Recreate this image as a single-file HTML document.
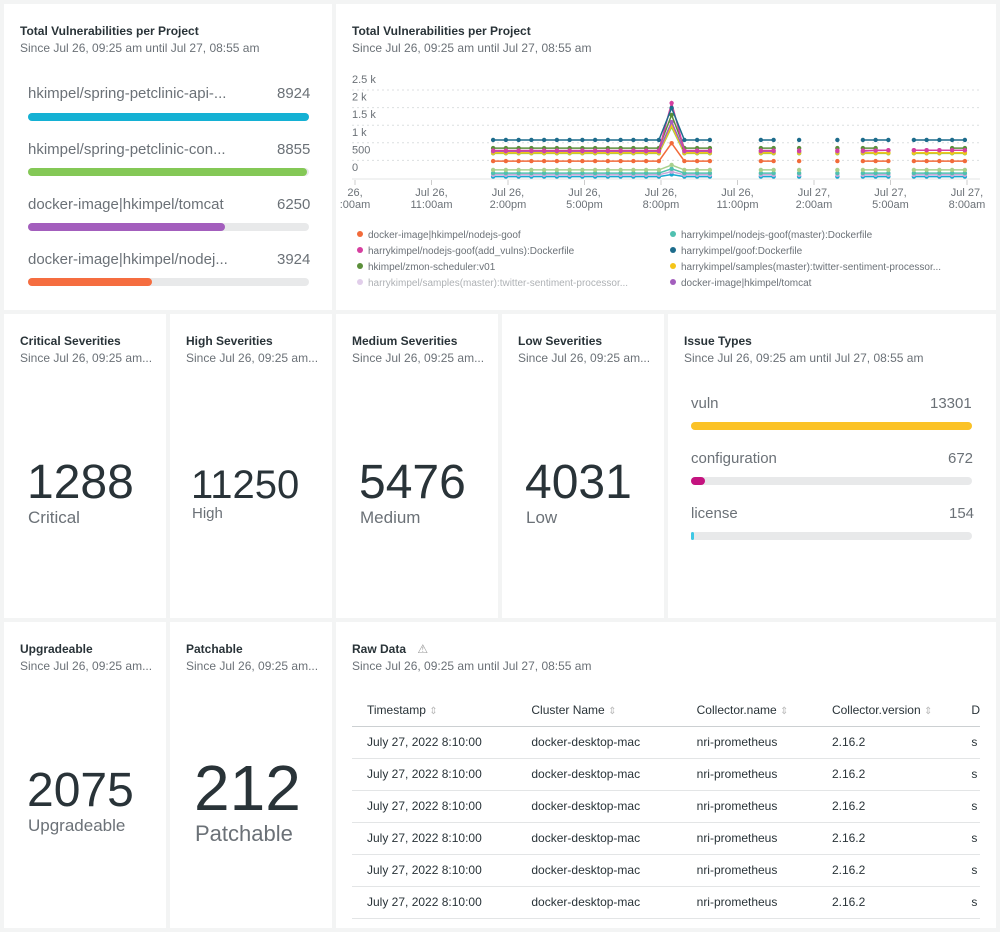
<!DOCTYPE html>
<html><head><meta charset="utf-8">
<style>
*{box-sizing:border-box;margin:0;padding:0}
body{width:1000px;height:932px;background:#f3f4f4;font-family:"Liberation Sans",sans-serif;position:relative;overflow:hidden;color:#293338}
.p{position:absolute;background:#fff}
.t{position:absolute;left:16px;top:20px;font-size:12px;font-weight:bold;color:#293338;white-space:nowrap}
.s{position:absolute;left:16px;top:37px;font-size:12px;color:#6b7177;white-space:nowrap}
.a{position:absolute}
.lbl{position:absolute;font-size:15px;color:#6b7177;white-space:nowrap}
.trk{position:absolute;height:8px;border-radius:4px;background:#e8e9ea}
.bar{position:absolute;left:0;top:0;height:8px;border-radius:4px}
.big{position:absolute;color:#293338;white-space:nowrap;line-height:1}
.bl{position:absolute;font-size:17px;color:#6b7177}
table{position:absolute;left:16px;top:72px;border-collapse:collapse;font-size:12px;color:#293338}
th{font-weight:normal;text-align:left;height:32px;border-bottom:1px solid #ccd0d2;padding-left:15px}
td{height:32px;border-bottom:1px solid #e3e5e6;padding-left:15px;white-space:nowrap}
.srt{color:#bbb;font-size:10px}
</style></head><body>

<div class="p" style="left:4px;top:4px;width:328px;height:306px">
<div class="t">Total Vulnerabilities per Project</div>
<div class="s">Since Jul 26, 09:25 am until Jul 27, 08:55 am</div>
<div class="lbl" style="left:24px;top:81px">hkimpel/spring-petclinic-api-...</div><div class="lbl" style="left:273px;top:81px">8924</div>
<div class="trk" style="left:24px;top:109px;width:281px"><div class="bar" style="width:100%;background:#14b1d4"></div></div>
<div class="lbl" style="left:24px;top:137px">hkimpel/spring-petclinic-con...</div><div class="lbl" style="left:273px;top:137px">8855</div>
<div class="trk" style="left:24px;top:164px;width:281px"><div class="bar" style="width:99.2%;background:#84c856"></div></div>
<div class="lbl" style="left:24px;top:192px">docker-image|hkimpel/tomcat</div><div class="lbl" style="left:273px;top:192px">6250</div>
<div class="trk" style="left:24px;top:219px;width:281px"><div class="bar" style="width:70%;background:#a35ebd"></div></div>
<div class="lbl" style="left:24px;top:247px">docker-image|hkimpel/nodej...</div><div class="lbl" style="left:273px;top:247px">3924</div>
<div class="trk" style="left:24px;top:274px;width:281px"><div class="bar" style="width:44%;background:#f56d40"></div></div>
</div>

<div class="p" style="left:336px;top:4px;width:660px;height:306px">
<div class="t">Total Vulnerabilities per Project</div>
<div class="s">Since Jul 26, 09:25 am until Jul 27, 08:55 am</div>
</div>
<svg id="chart" class="a" style="left:0;top:0" width="1000" height="310"></svg>

<div class="p" style="left:4px;top:314px;width:162px;height:304px">
<div class="t">Critical Severities</div><div class="s">Since Jul 26, 09:25 am...</div>
<div class="big" style="left:23px;top:145px;font-size:48px">1288</div><div class="bl" style="left:24px;top:194px">Critical</div></div>
<div class="p" style="left:170px;top:314px;width:162px;height:304px">
<div class="t">High Severities</div><div class="s">Since Jul 26, 09:25 am...</div>
<div class="big" style="left:21px;top:151px;font-size:40px">11250</div><div class="bl" style="left:22px;top:191px;font-size:15px">High</div></div>
<div class="p" style="left:336px;top:314px;width:162px;height:304px">
<div class="t">Medium Severities</div><div class="s">Since Jul 26, 09:25 am...</div>
<div class="big" style="left:23px;top:145px;font-size:48px">5476</div><div class="bl" style="left:24px;top:194px">Medium</div></div>
<div class="p" style="left:502px;top:314px;width:162px;height:304px">
<div class="t">Low Severities</div><div class="s">Since Jul 26, 09:25 am...</div>
<div class="big" style="left:23px;top:145px;font-size:48px">4031</div><div class="bl" style="left:24px;top:194px">Low</div></div>

<div class="p" style="left:668px;top:314px;width:328px;height:304px">
<div class="t">Issue Types</div><div class="s">Since Jul 26, 09:25 am until Jul 27, 08:55 am</div>
<div class="lbl" style="left:23px;top:81px">vuln</div><div class="lbl" style="left:262px;top:81px">13301</div>
<div class="trk" style="left:23px;top:108px;width:281px"><div class="bar" style="width:100%;background:#fbc226"></div></div>
<div class="lbl" style="left:23px;top:136px">configuration</div><div class="lbl" style="left:280px;top:136px">672</div>
<div class="trk" style="left:23px;top:163px;width:281px"><div class="bar" style="width:5%;background:#c4137f"></div></div>
<div class="lbl" style="left:23px;top:191px">license</div><div class="lbl" style="left:281px;top:191px">154</div>
<div class="trk" style="left:23px;top:218px;width:281px"><div class="bar" style="width:1.2%;background:#3fc8e4"></div></div>
</div>

<div class="p" style="left:4px;top:622px;width:162px;height:306px">
<div class="t">Upgradeable</div><div class="s">Since Jul 26, 09:25 am...</div>
<div class="big" style="left:23px;top:145px;font-size:48px">2075</div><div class="bl" style="left:24px;top:194px">Upgradeable</div></div>
<div class="p" style="left:170px;top:622px;width:162px;height:306px">
<div class="t">Patchable</div><div class="s">Since Jul 26, 09:25 am...</div>
<div class="big" style="left:24px;top:134px;font-size:64px">212</div><div class="bl" style="left:25px;top:199px;font-size:22px">Patchable</div></div>

<div class="p" style="left:336px;top:622px;width:660px;height:306px;overflow:hidden">
<div class="t">Raw Data <span style="font-weight:normal;color:#999;margin-left:8px">⚠</span></div>
<div class="s">Since Jul 26, 09:25 am until Jul 27, 08:55 am</div>
<table style="width:628px">
<tr><th style="width:165px">Timestamp <span class="srt">⇕</span></th><th style="width:166px">Cluster Name <span class="srt">⇕</span></th><th style="width:136px">Collector.name <span class="srt">⇕</span></th><th style="width:140px">Collector.version <span class="srt">⇕</span></th><th>D</th></tr>
<tr><td>July 27, 2022 8:10:00</td><td>docker-desktop-mac</td><td>nri-prometheus</td><td>2.16.2</td><td>s</td></tr>
<tr><td>July 27, 2022 8:10:00</td><td>docker-desktop-mac</td><td>nri-prometheus</td><td>2.16.2</td><td>s</td></tr>
<tr><td>July 27, 2022 8:10:00</td><td>docker-desktop-mac</td><td>nri-prometheus</td><td>2.16.2</td><td>s</td></tr>
<tr><td>July 27, 2022 8:10:00</td><td>docker-desktop-mac</td><td>nri-prometheus</td><td>2.16.2</td><td>s</td></tr>
<tr><td>July 27, 2022 8:10:00</td><td>docker-desktop-mac</td><td>nri-prometheus</td><td>2.16.2</td><td>s</td></tr>
<tr><td>July 27, 2022 8:10:00</td><td>docker-desktop-mac</td><td>nri-prometheus</td><td>2.16.2</td><td>s</td></tr>
</table>
<div class="a" style="left:644px;top:104px;width:16px;height:202px;background:#fff"></div>
</div>

<script>
const N=null;
const yTicks=[0,500,1000,1500,2000,2500];
const yTickLabels=["0","500","1 k","1.5 k","2 k","2.5 k"];
const xTickMinutes=[0,180,360,540,720,900,1080,1260,1440];
const xTickLabels=[["26,",":00am"],["Jul 26,","11:00am"],["Jul 26,","2:00pm"],["Jul 26,","5:00pm"],["Jul 26,","8:00pm"],["Jul 26,","11:00pm"],["Jul 27,","2:00am"],["Jul 27,","5:00am"],["Jul 27,","8:00am"]];
const startMinute=325, stepMinutes=30;
const seriesColors=["#1d6c8c","#d63fa0","#5b8f3a","#a35ebd","#8ccc5a","#f5c518","#f26b3a","#a8d08d","#4fc0b0","#c9a6d9","#17a9d0"];
const s0=[1080,1080,1080,1080,1080,1080,1080,1080,1080,1080,1080,1080,1080,1080,1990,1080,1080,1080,N,N,N,1080,1080,N,1080,N,N,1080,N,1080,1080,1080,N,1080,1080,1080,1080,1080];
const s1=[780,780,780,780,780,780,780,780,780,780,780,780,780,780,2130,780,780,780,N,N,N,780,780,N,780,N,N,780,N,780,780,790,N,790,790,790,790,790];
const s2=[850,850,850,850,850,850,850,850,850,850,850,850,850,850,1790,850,850,850,N,N,N,850,850,N,850,N,N,850,N,850,850,N,N,N,N,N,850,850];
const s3=[760,760,760,760,760,760,760,760,760,760,760,760,760,760,1590,760,760,760,N,N,N,760,760,N,760,N,N,760,N,760,790,790,N,790,790,790,790,790];
const s4=[700,700,700,700,700,700,700,700,700,700,700,700,700,700,1450,700,700,700,N,N,N,700,700,N,700,N,N,700,N,700,700,700,N,700,700,700,700,700];
const s5=[720,720,720,720,720,720,720,720,720,720,720,720,720,720,1500,720,720,720,N,N,N,720,720,N,720,N,N,720,N,720,720,720,N,720,720,720,720,720];
const s6=[480,480,480,480,480,480,480,480,480,480,480,480,480,480,990,480,480,480,N,N,N,480,480,N,480,N,N,480,N,480,480,480,N,480,480,480,480,480];
const s7=[230,230,230,230,230,230,230,230,230,230,230,230,230,230,370,230,230,230,N,N,N,230,230,N,230,N,N,230,N,230,230,230,N,230,230,230,230,230];
const s8=[140,140,140,140,140,140,140,140,140,140,140,140,140,140,260,140,140,140,N,N,N,140,140,N,140,N,N,140,N,140,140,140,N,140,140,140,140,140];
const s9=[90,90,90,90,90,90,90,90,90,90,90,90,90,90,180,90,90,90,N,N,N,90,90,N,90,N,N,90,N,90,90,90,N,90,90,90,90,90];
const s10=[40,40,40,40,40,40,40,40,40,40,40,40,40,40,100,40,40,40,N,N,N,40,40,N,40,N,N,40,N,40,40,40,N,40,40,40,40,40];
const series=[s10,s9,s8,s7,s6,s4,s5,s3,s2,s1,s0];
const seriesColorOrder=[10,9,8,7,6,4,5,3,2,1,0];
const legendLabels=["docker-image|hkimpel/nodejs-goof","harrykimpel/nodejs-goof(master):Dockerfile","harrykimpel/nodejs-goof(add_vulns):Dockerfile","harrykimpel/goof:Dockerfile","hkimpel/zmon-scheduler:v01","harrykimpel/samples(master):twitter-sentiment-processor...","harrykimpel/samples(master):twitter-sentiment-processor...","docker-image|hkimpel/tomcat"];
const legendColors=["#f26b3a","#4fc0b0","#d63fa0","#1d6c8c","#5b8f3a","#f5c518","#c9a6d9","#a35ebd"];

const NS="http://www.w3.org/2000/svg";
const svg=document.getElementById('chart');
const X=m=>355+m*76.5/180;
const Y=v=>178-v*0.0352;
function mk(t,a){const e=document.createElementNS(NS,t);for(const k in a)e.setAttribute(k,a[k]);svg.appendChild(e);return e;}
yTicks.forEach((v,i)=>{
  if(i>0){const g=mk('line',{x1:352,x2:980,y1:Y(v),y2:Y(v),stroke:'#dcdfe0','stroke-dasharray':'2,3'});
  
  }
  const t=mk('text',{x:352,y:Y(v)-7,'font-size':11,fill:'#6b7177','font-family':'Liberation Sans'});
  t.textContent=yTickLabels[i];
  
  
});
const ax=mk('line',{x1:352,x2:980,y1:179,y2:179,stroke:'#e3e5e6'});


xTickMinutes.forEach((m,i)=>{
  const x=X(m);
  mk('line',{x1:x,x2:x,y1:180,y2:185,stroke:'#ccc'});
  xTickLabels[i].forEach((s,j)=>{
    const t=mk('text',{x:x,y:196+j*12,'font-size':11,fill:'#6b7177','text-anchor':'middle','font-family':'Liberation Sans'});
    t.textContent=s;
    
    
  });
});
series.forEach((arr,si)=>{
  const c=seriesColors[seriesColorOrder[si]];
  let d='',pen=false;
  arr.forEach((v,i)=>{
    if(v===null){pen=false;return;}
    const x=X(startMinute+i*stepMinutes),y=Y(v);
    d+=(pen?'L':'M')+x.toFixed(1)+','+y.toFixed(1);pen=true;
  });
  const p=mk('path',{d:d,fill:'none',stroke:c,'stroke-width':1.5});
  
  
  arr.forEach((v,i)=>{
    if(v===null)return;
    const dot=mk('circle',{cx:X(startMinute+i*stepMinutes),cy:Y(v),r:2.2,fill:c});
    
    
  });
});
legendLabels.forEach((l,i)=>{
  const x=i%2?673:360,y=238+Math.floor(i/2)*16;
  const op=i===6?0.55:1;
  const c=mk('circle',{cx:x,cy:y-4,r:3,fill:legendColors[i],opacity:op});
  
  
  const t=mk('text',{x:x+8,y:y,'font-size':10,fill:'#6b7177',opacity:op,'font-family':'Liberation Sans'});
  t.textContent=l;
  
  
});
</script>
</body></html>
